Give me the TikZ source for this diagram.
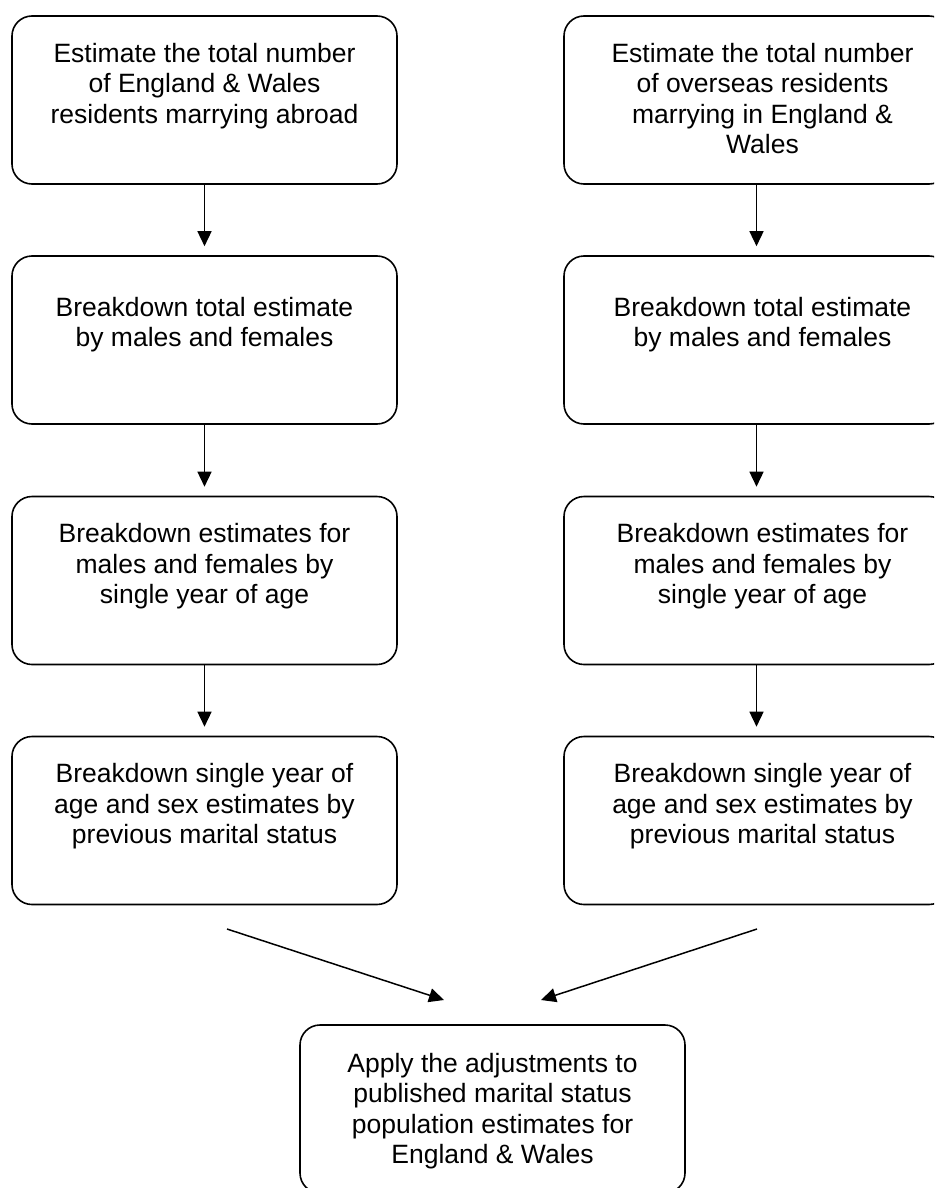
\documentclass[tikz,border=0pt]{standalone}
\usepackage{fontspec}
\setmainfont{Liberation Sans}
\usetikzlibrary{arrows.meta}
\tikzset{
  box/.style={draw=black, line width=1.6pt, rounded corners=20pt, minimum width=385pt, minimum height=168pt, inner sep=0pt},
  txt/.style={anchor=north, align=center, inner sep=0pt, font=\fontsize{26.5}{30.5}\selectfont},
  arr/.style={line width=1.5pt, -{Triangle[length=15pt,width=14pt]}}
}
\newcommand{\fl}{\rule{0pt}{20pt}}
\begin{document}
\begin{tikzpicture}[x=1pt,y=-1pt]
\clip (0,0) rectangle (934,1188);
\fill[white] (0,0) rectangle (934,1188);
% left column
\node[box] (L1) at (204.5,100) {};
\node[box] (L2) at (204.5,340) {};
\node[box] (L3) at (204.5,580.5) {};
\node[box] (L4) at (204.5,820.5) {};
% right column
\node[box] (R1) at (756.5,100) {};
\node[box] (R2) at (756.5,340) {};
\node[box] (R3) at (756.5,580.5) {};
\node[box] (R4) at (756.5,820.5) {};
% bottom
\node[box] (B) at (492.5,1109) {};
% texts
\node[txt] (tL1) at ([yshift=-27pt]L1.north) {\fl Estimate the total number\\of England \& Wales\\residents marrying abroad};
\node[txt] (tL2) at ([yshift=-41pt]L2.north) {\fl Breakdown total estimate\\by males and females};
\node[txt] (tL3) at ([yshift=-27pt]L3.north) {\fl Breakdown estimates for\\males and females by\\single year of age};
\node[txt] (tL4) at ([yshift=-27pt]L4.north) {\fl Breakdown single year of\\age and sex estimates by\\previous marital status};
\node[txt] (tR1) at ([xshift=6pt,yshift=-27pt]R1.north) {\fl Estimate the total number\\of overseas residents\\marrying in England \&\\Wales};
\node[txt] (tR2) at ([xshift=6pt,yshift=-41pt]R2.north) {\fl Breakdown total estimate\\by males and females};
\node[txt] (tR3) at ([xshift=6pt,yshift=-27pt]R3.north) {\fl Breakdown estimates for\\males and females by\\single year of age};
\node[txt] (tR4) at ([xshift=6pt,yshift=-27pt]R4.north) {\fl Breakdown single year of\\age and sex estimates by\\previous marital status};
\node[txt] (tB) at ([yshift=-28pt]B.north) {\fl Apply the adjustments to\\published marital status\\population estimates for\\England \& Wales};
% vertical arrows
\draw[arr] (L1.south) -- ([yshift=9pt]L2.north);
\draw[arr] (L2.south) -- ([yshift=9pt]L3.north);
\draw[arr] (L3.south) -- ([yshift=9pt]L4.north);
\draw[arr] (R1.south) -- ([yshift=9pt]R2.north);
\draw[arr] (R2.south) -- ([yshift=9pt]R3.north);
\draw[arr] (R3.south) -- ([yshift=9pt]R4.north);
% converging arrows
\coordinate (ls) at (227,929);
\coordinate (lt) at (444,1000);
\coordinate (rs) at (757,929);
\coordinate (rt) at (541,1000);
\draw[arr] (ls) -- (lt);
\draw[arr] (rs) -- (rt);
\end{tikzpicture}
\end{document}
